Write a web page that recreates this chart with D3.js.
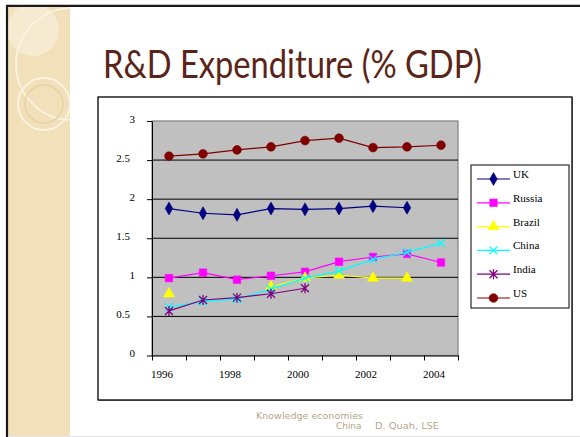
<!DOCTYPE html>
<html>
<head>
<meta charset="utf-8">
<script src="https://cdn.jsdelivr.net/npm/d3@7"></script>
<style>
    body { margin: 0; background: #ffffff; }
    svg { display: block; }
</style>
</head>
<body>
<svg id="slide" width="580" height="437"></svg>
<script>

//*************************************************
// Data
//*************************************************
var years = [1996, 1997, 1998, 1999, 2000, 2001, 2002, 2003, 2004];
var seriesNames = ['UK', 'Russia', 'Brazil', 'China', 'India', 'US'];
var ukValues     = [1.88, 1.82, 1.80, 1.88, 1.87, 1.88, 1.91, 1.89, null];
var russiaValues = [0.99, 1.06, 0.97, 1.02, 1.07, 1.20, 1.26, 1.30, 1.19];
var brazilValues = [0.79, null, null, 0.88, 0.99, 1.03, 0.99, 0.99, null];
var chinaValues  = [0.62, 0.69, 0.72, 0.85, 0.99, 1.08, 1.23, 1.32, 1.44];
var indiaValues  = [0.57, 0.71, 0.74, 0.79, 0.86, null, null, null, null];
var usValues     = [2.55, 2.58, 2.63, 2.67, 2.75, 2.78, 2.66, 2.67, 2.69];
var yTickValues = [0, 0.5, 1, 1.5, 2, 2.5, 3];
var xTickLabels = [1996, 1998, 2000, 2002, 2004];

var seriesColors = ['#000080', '#ff00ff', '#ffff00', '#00ffff', '#800080', '#800000'];
var seriesMarkers = ['diamond', 'square', 'triangle', 'cross', 'star', 'circle'];


var svg = d3.select('#slide');

//----------------------------------------------------------------------------------
// Slide background: beige stripe with rings, frame lines
//----------------------------------------------------------------------------------
var defs = svg.append('defs');
defs.append('clipPath').attr('id', 'stripeClip')
    .append('rect').attr('x', 8).attr('y', 7).attr('width', 62).attr('height', 430);

svg.append('rect').attr('x', 8).attr('y', 7).attr('width', 62).attr('height', 430)
    .style('fill', '#f1e0b9');

var rings = svg.append('g').attr('clip-path', 'url(#stripeClip)');
rings.append('circle').attr('cx', 33).attr('cy', 30).attr('r', 26)
    .style('fill', '#f8eed6').style('opacity', 0.8);
rings.append('circle').attr('cx', 72).attr('cy', 64).attr('r', 56)
    .style('fill', 'none').style('stroke', '#fbf4e2').style('stroke-width', 1.6);
rings.append('circle').attr('cx', 44).attr('cy', 104).attr('r', 26)
    .style('fill', 'none').style('stroke', '#fbf3df').style('stroke-width', 2);
rings.append('circle').attr('cx', 44).attr('cy', 104).attr('r', 19)
    .style('fill', 'none').style('stroke', '#e6d2a6').style('stroke-width', 1.4);

svg.append('line').attr('x1', 6).attr('x2', 580).attr('y1', 5.8).attr('y2', 5.8)
    .style('stroke', '#1a1a1a').style('stroke-width', 2.2);
svg.append('line').attr('x1', 7).attr('x2', 7).attr('y1', 5).attr('y2', 437)
    .style('stroke', '#1a1a1a').style('stroke-width', 2.2);
svg.append('line').attr('x1', 8).attr('x2', 580).attr('y1', 436.5).attr('y2', 436.5)
    .style('stroke', '#e4e4e4').style('stroke-width', 1);

// Title
svg.append('text')
    .attr('x', 103).attr('y', 78)
    .attr('textLength', 379).attr('lengthAdjust', 'spacingAndGlyphs')
    .style('font-family', 'Lato, "Open Sans", sans-serif')
    .style('font-size', '39px')
    .style('fill', '#5b2418')
    .text('R&D Expenditure (% GDP)');

// Footer
var footer = svg.append('g')
    .style('font-family', '"DejaVu Sans", Verdana, sans-serif')
    .style('font-size', '9px')
    .style('fill', '#b5a78c');
footer.append('text').attr('x', 256).attr('y', 419)
    .attr('textLength', 107).attr('lengthAdjust', 'spacingAndGlyphs')
    .text('Knowledge economies');
footer.append('text').attr('x', 336).attr('y', 429)
    .attr('textLength', 25.5).attr('lengthAdjust', 'spacingAndGlyphs')
    .text('China');
footer.append('text').attr('x', 375).attr('y', 429)
    .attr('textLength', 64).attr('lengthAdjust', 'spacingAndGlyphs')
    .text('D. Quah, LSE');


//*************************************************
// Line chart
//*************************************************
d3.rdChart = function (){

    var _frame = { left: 98, top: 97, right: 572, bottom: 400 };
    var _plot = { left: 152, top: 121, right: 458, bottom: 355.5 };

    function chart(selection){
        selection.each(function (data){
            var root = d3.select(this).append('g').attr('class', 'rootNode');

            var series = seriesNames.map(function (name, i){
                return { name: name, values: data[i], color: seriesColors[i], marker: seriesMarkers[i] };
            });

            var x = d3.scaleLinear()
                .domain([years[0] - 0.5, years[years.length - 1] + 0.5])
                .range([_plot.left, _plot.right]);
            var y = d3.scaleLinear().domain([0, 3]).range([_plot.bottom, _plot.top]);

            // chart frame
            root.append('rect')
                .attr('x', _frame.left + 1).attr('y', _frame.top + 1)
                .attr('width', _frame.right - _frame.left).attr('height', _frame.bottom - _frame.top)
                .style('fill', '#9a9a9a');
            root.append('rect')
                .attr('x', _frame.left).attr('y', _frame.top)
                .attr('width', _frame.right - _frame.left).attr('height', _frame.bottom - _frame.top)
                .style('fill', '#ffffff').style('stroke', '#000').style('stroke-width', 1.3);

            // plot area
            root.append('rect')
                .attr('x', _plot.left).attr('y', _plot.top)
                .attr('width', _plot.right - _plot.left).attr('height', _plot.bottom - _plot.top)
                .style('fill', '#c0c0c0').style('stroke', '#808080').style('stroke-width', 1.2);

            root.append('g').selectAll('line')
                .data(yTickValues.filter(function (v){ return v > 0 && v < 3; }))
                .enter().append('line')
                .attr('x1', _plot.left).attr('x2', _plot.right)
                .attr('y1', function (d){ return y(d); }).attr('y2', function (d){ return y(d); })
                .style('stroke', '#000').style('stroke-width', 1);

            // y axis
            var yAxis = root.append('g')
                .attr('transform', 'translate(' + _plot.left + ',0)')
                .call(d3.axisLeft(y).tickValues(yTickValues).tickSize(5).tickSizeOuter(0).tickFormat(d3.format('')));
            yAxis.select('.domain').style('stroke', '#000');
            yAxis.selectAll('.tick line').style('stroke', '#000');
            yAxis.selectAll('.tick text')
                .attr('x', function (d){ return d % 1 === 0 ? -17 : -22; })
                .attr('dy', '0.1em')
                .style('font-family', '"Liberation Serif", "Times New Roman", serif')
                .style('font-size', '11px').style('fill', '#000');

            // x axis: ticks between categories, labels every two years
            var xAxis = root.append('g')
                .attr('transform', 'translate(0,' + _plot.bottom + ')')
                .call(d3.axisBottom(x).tickValues(d3.range(years.length + 1).map(function (i){ return years[0] - 0.5 + i; }))
                    .tickSize(5).tickSizeOuter(0).tickFormat(''));
            xAxis.select('.domain').style('stroke', '#000');
            xAxis.selectAll('.tick line').style('stroke', '#000');

            root.append('g').selectAll('text')
                .data(xTickLabels).enter().append('text')
                .attr('x', function (d){ return x(d) - 7; })
                .attr('y', _plot.bottom + 22.5)
                .attr('text-anchor', 'middle')
                .style('font-family', '"Liberation Serif", "Times New Roman", serif')
                .style('font-size', '11px')
                .text(function (d){ return d; });

            // series lines and markers
            var line = d3.line()
                .defined(function (d){ return d != null; })
                .x(function (d, i){ return x(years[i]); })
                .y(function (d){ return y(d); });

            var seriesG = root.selectAll('.series').data(series).enter().append('g').attr('class', 'series');
            seriesG.append('path')
                .attr('d', function (s){ return line(s.values); })
                .style('fill', 'none').style('stroke', function (s){ return s.color; }).style('stroke-width', 1.2);
            seriesG.each(function (s){
                var g = d3.select(this);
                s.values.forEach(function (v, i){
                    if (v == null) return;
                    drawMarker(g, s.marker, s.color, x(years[i]), y(v));
                });
            });

            // legend
            var legend = root.append('g');
            legend.append('rect')
                .attr('x', 471).attr('y', 165).attr('width', 98).attr('height', 143)
                .style('fill', '#fff').style('stroke', '#000').style('stroke-width', 1);
            var item = legend.selectAll('.item').data(series).enter().append('g')
                .attr('transform', function (d, i){ return 'translate(0,' + (179 + i * 23.8) + ')'; });
            item.append('line').attr('x1', 477).attr('x2', 510).attr('y1', 0).attr('y2', 0)
                .style('stroke', function (s){ return s.color; }).style('stroke-width', 1.2);
            item.each(function (s){ drawMarker(d3.select(this), s.marker, s.color, 493.5, 0); });
            item.append('text').attr('x', 513).attr('y', -1)
                .style('font-family', '"Liberation Serif", "Times New Roman", serif')
                .style('font-size', '11px')
                .text(function (s){ return s.name; });
        });
    }

    //----------------------------------------------------------------------------------
    // Helper Functions
    //----------------------------------------------------------------------------------
    function drawMarker(g, type, color, cx, cy){
        var t = 'translate(' + cx + ',' + cy + ')';
        if (type === 'cross' || type === 'star'){
            var p = 'M-4,-4L4,4M-4,4L4,-4' + (type === 'star' ? 'M0,-5L0,5' : '');
            g.append('path').attr('transform', t).attr('d', p)
                .style('fill', 'none').style('stroke', color).style('stroke-width', 1.3);
            return;
        }
        var sym = { diamond: d3.symbolDiamond, square: d3.symbolSquare, triangle: d3.symbolTriangle, circle: d3.symbolCircle }[type];
        var size = { diamond: 48, square: 56, triangle: 52, circle: 60 }[type];
        g.append('path').attr('transform', t)
            .attr('d', d3.symbol().type(sym).size(size)())
            .style('fill', color).style('stroke', color).style('stroke-width', 0.6);
    }

    return chart;
};

svg.datum([ukValues, russiaValues, brazilValues, chinaValues, indiaValues, usValues])
    .call(d3.rdChart());

</script>
</body>
</html>
